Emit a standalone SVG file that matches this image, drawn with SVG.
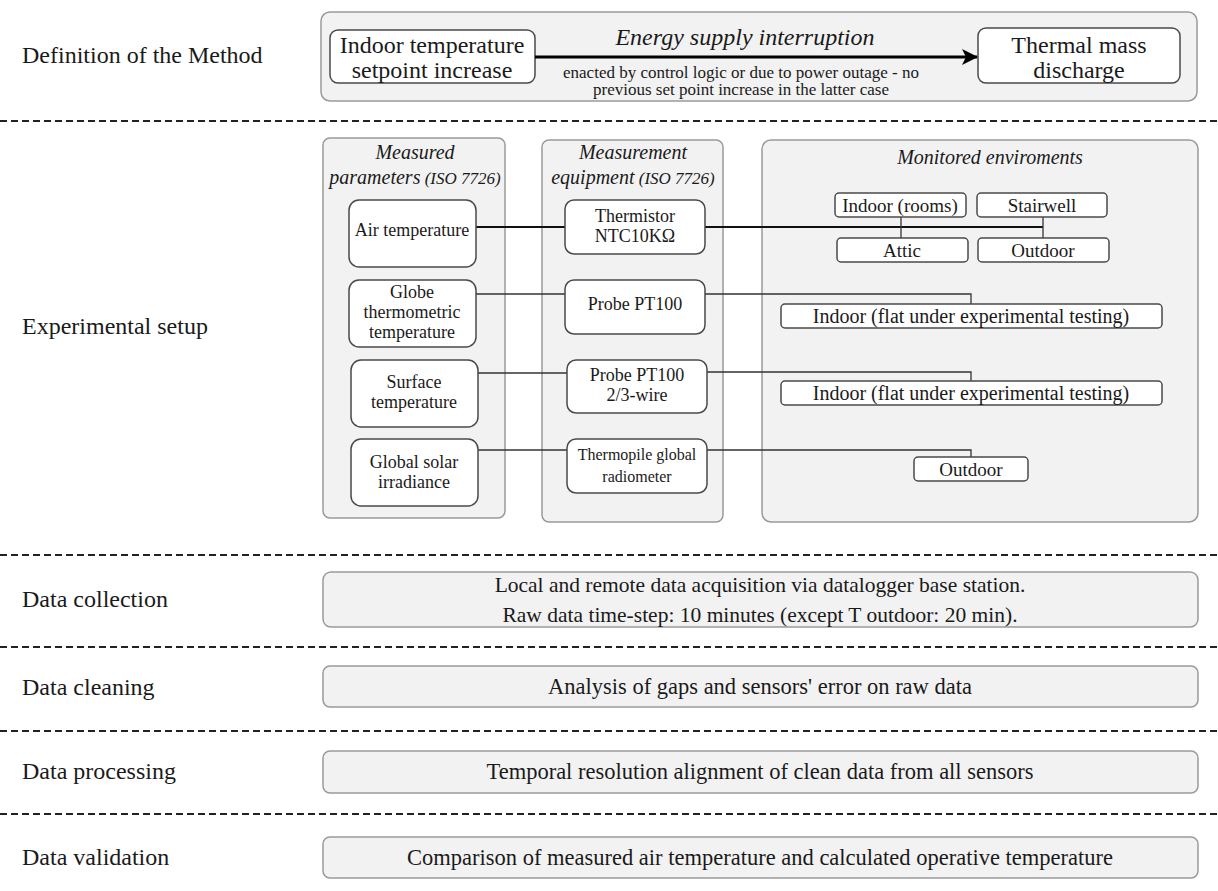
<svg xmlns="http://www.w3.org/2000/svg" width="1218" height="891" viewBox="0 0 1218 891">
<style>
  text { font-family: "Liberation Serif", "Times New Roman", serif; fill: #1a1a1a; }
  .lbl { font-size: 24px; }
  .panel { fill: #f2f2f2; stroke: #9a9a9a; stroke-width: 1.5; }
  .node { fill: #ffffff; stroke: #4a4a4a; stroke-width: 1.5; }
  .dash { stroke: #222; stroke-width: 2; stroke-dasharray: 7 4; fill: none; }
  .conn { stroke: #333; stroke-width: 1.3; fill: none; }
  .thick { stroke: #111; stroke-width: 2; fill: none; }
  .c { text-anchor: middle; }
  .it { font-style: italic; }
  .n18 { font-size: 18px; }
  .n20 { font-size: 20px; }
  .n22 { font-size: 22.5px; }
</style>
<defs>
  <marker id="ah" viewBox="0 0 16 16" refX="15" refY="8" markerWidth="16" markerHeight="16" markerUnits="userSpaceOnUse" orient="auto">
    <path d="M0,0 L16,8 L0,16 L4,8 z" fill="#000"/>
  </marker>
</defs>
<rect width="1218" height="891" fill="#ffffff"/>

<!-- Row labels -->
<g id="row-labels">
  <text class="lbl" x="22" y="63">Definition of the Method</text>
  <text class="lbl" x="22" y="334">Experimental setup</text>
  <text class="lbl" x="22" y="607">Data collection</text>
  <text class="lbl" x="22" y="695">Data cleaning</text>
  <text class="lbl" x="22" y="779">Data processing</text>
  <text class="lbl" x="22" y="865">Data validation</text>
</g>

<!-- Dashed separators -->
<g id="separators">
  <line class="dash" x1="0" y1="121" x2="1218" y2="121"/>
  <line class="dash" x1="0" y1="555" x2="1218" y2="555"/>
  <line class="dash" x1="0" y1="647" x2="1218" y2="647"/>
  <line class="dash" x1="0" y1="731" x2="1218" y2="731"/>
  <line class="dash" x1="0" y1="814" x2="1218" y2="814"/>
</g>

<!-- Definition of the method -->
<g id="method-panel">
  <rect class="panel" x="321" y="12" width="876" height="89" rx="9"/>
</g>
<g id="node-setpoint">
  <rect class="node" x="330" y="30" width="205" height="53" rx="8"/>
  <text class="c" x="432" y="53" font-size="24">Indoor temperature</text>
  <text class="c" x="432" y="78" font-size="24">setpoint increase</text>
</g>
<g id="node-discharge">
  <rect class="node" x="978" y="28" width="202" height="55" rx="8"/>
  <text class="c" x="1079" y="53" font-size="24">Thermal mass</text>
  <text class="c" x="1079" y="78" font-size="24">discharge</text>
</g>
<g id="method-arrow-label">
  <text class="c it" x="745" y="45" font-size="24">Energy supply interruption</text>
  <text class="c" x="741" y="78" font-size="17" fill="#333">enacted by control logic or due to power outage - no</text>
  <text class="c" x="741" y="95" font-size="17" fill="#333">previous set point increase in the latter case</text>
</g>

<!-- Experimental setup panels -->
<g id="panel-parameters">
  <rect class="panel" x="323" y="138" width="182" height="380" rx="7"/>
  <text class="c it n20" x="415" y="159">Measured</text>
  <text class="c it" x="415" y="184"><tspan font-size="20">parameters</tspan><tspan font-size="17"> (ISO 7726)</tspan></text>
</g>
<g id="panel-equipment">
  <rect class="panel" x="542" y="140" width="181" height="382" rx="7"/>
  <text class="c it n20" x="633" y="159">Measurement</text>
  <text class="c it" x="633" y="184"><tspan font-size="20">equipment</tspan><tspan font-size="17"> (ISO 7726)</tspan></text>
</g>
<g id="panel-environments">
  <rect class="panel" x="762" y="140" width="436" height="382" rx="9"/>
  <text class="c it n20" x="990" y="164">Monitored enviroments</text>
</g>

<!-- Connectors -->
<g id="connectors">
  <line class="thick" x1="476" y1="227" x2="565" y2="227"/>
  <line class="thick" x1="705" y1="227" x2="1043" y2="227"/>
  <line class="conn" x1="901" y1="217" x2="901" y2="238"/>
  <line class="conn" x1="1043" y1="217" x2="1043" y2="238"/>
  <line class="conn" x1="476" y1="294" x2="565" y2="294"/>
  <polyline class="conn" points="705,294 971,294 971,304"/>
  <line class="conn" x1="478" y1="373" x2="567" y2="373"/>
  <polyline class="conn" points="707,372 971,372 971,382"/>
  <line class="conn" x1="478" y1="450" x2="567" y2="450"/>
  <polyline class="conn" points="707,450 971,450 971,457"/>
  <line x1="535" y1="57" x2="977" y2="57" stroke="#000" stroke-width="3" marker-end="url(#ah)"/>
</g>

<!-- Measured parameters nodes -->
<g id="node-air">
  <rect class="node" x="349" y="200" width="127" height="67" rx="10"/>
  <text class="c n18" x="412" y="236">Air temperature</text>
</g>
<g id="node-globe">
  <rect class="node" x="349" y="280" width="127" height="67" rx="10"/>
  <text class="c n18" x="412" y="298">Globe</text>
  <text class="c n18" x="412" y="318">thermometric</text>
  <text class="c n18" x="412" y="338">temperature</text>
</g>
<g id="node-surface">
  <rect class="node" x="351" y="360" width="127" height="67" rx="10"/>
  <text class="c n18" x="414" y="388">Surface</text>
  <text class="c n18" x="414" y="408">temperature</text>
</g>
<g id="node-solar">
  <rect class="node" x="351" y="439" width="127" height="67" rx="10"/>
  <text class="c n18" x="414" y="468">Global solar</text>
  <text class="c n18" x="414" y="488">irradiance</text>
</g>

<!-- Measurement equipment nodes -->
<g id="node-thermistor">
  <rect class="node" x="565" y="200" width="140" height="54" rx="9"/>
  <text class="c n18" x="635" y="222">Thermistor</text>
  <text class="c n18" x="635" y="242">NTC10KΩ</text>
</g>
<g id="node-pt100">
  <rect class="node" x="565" y="280" width="140" height="54" rx="9"/>
  <text class="c n18" x="635" y="310">Probe PT100</text>
</g>
<g id="node-pt100-wire">
  <rect class="node" x="567" y="360" width="140" height="53" rx="9"/>
  <text class="c n18" x="637" y="381">Probe PT100</text>
  <text class="c n18" x="637" y="401">2/3-wire</text>
</g>
<g id="node-thermopile">
  <rect class="node" x="567" y="439" width="140" height="54" rx="9"/>
  <text class="c" x="637" y="460" font-size="16">Thermopile global</text>
  <text class="c" x="637" y="482" font-size="16">radiometer</text>
</g>

<!-- Monitored environment nodes -->
<g id="node-indoor-rooms">
  <rect class="node" x="835" y="193" width="131" height="24" rx="4"/>
  <text class="c" x="900" y="212" font-size="19">Indoor (rooms)</text>
</g>
<g id="node-stairwell">
  <rect class="node" x="977" y="193" width="130" height="24" rx="4"/>
  <text class="c" x="1042" y="212" font-size="19">Stairwell</text>
</g>
<g id="node-attic">
  <rect class="node" x="837" y="238" width="131" height="24" rx="4"/>
  <text class="c" x="902" y="257" font-size="19">Attic</text>
</g>
<g id="node-outdoor-1">
  <rect class="node" x="978" y="238" width="131" height="24" rx="4"/>
  <text class="c" x="1043" y="257" font-size="19">Outdoor</text>
</g>
<g id="node-indoor-flat-1">
  <rect class="node" x="781" y="304" width="381" height="24" rx="4"/>
  <text class="c" x="971" y="323" font-size="20">Indoor (flat under experimental testing)</text>
</g>
<g id="node-indoor-flat-2">
  <rect class="node" x="781" y="381" width="381" height="24" rx="4"/>
  <text class="c" x="971" y="400" font-size="20">Indoor (flat under experimental testing)</text>
</g>
<g id="node-outdoor-2">
  <rect class="node" x="914" y="457" width="114" height="24" rx="4"/>
  <text class="c" x="971" y="476" font-size="19">Outdoor</text>
</g>

<!-- Lower process boxes -->
<g id="box-collection">
  <rect class="panel" x="323" y="572" width="875" height="55" rx="8"/>
  <text class="c" x="760" y="592" font-size="21.5">Local and remote data acquisition via datalogger base station.</text>
  <text class="c" x="760" y="622" font-size="21.5">Raw data time-step: 10 minutes (except T outdoor: 20 min).</text>
</g>
<g id="box-cleaning">
  <rect class="panel" x="323" y="666" width="875" height="41" rx="7"/>
  <text class="c n22" x="760" y="694">Analysis of gaps and sensors' error on raw data</text>
</g>
<g id="box-processing">
  <rect class="panel" x="323" y="751" width="875" height="42" rx="7"/>
  <text class="c n22" x="760" y="779">Temporal resolution alignment of clean data from all sensors</text>
</g>
<g id="box-validation">
  <rect class="panel" x="323" y="837" width="875" height="41" rx="7"/>
  <text class="c n22" x="760" y="865">Comparison of measured air temperature and calculated operative temperature</text>
</g>
</svg>
